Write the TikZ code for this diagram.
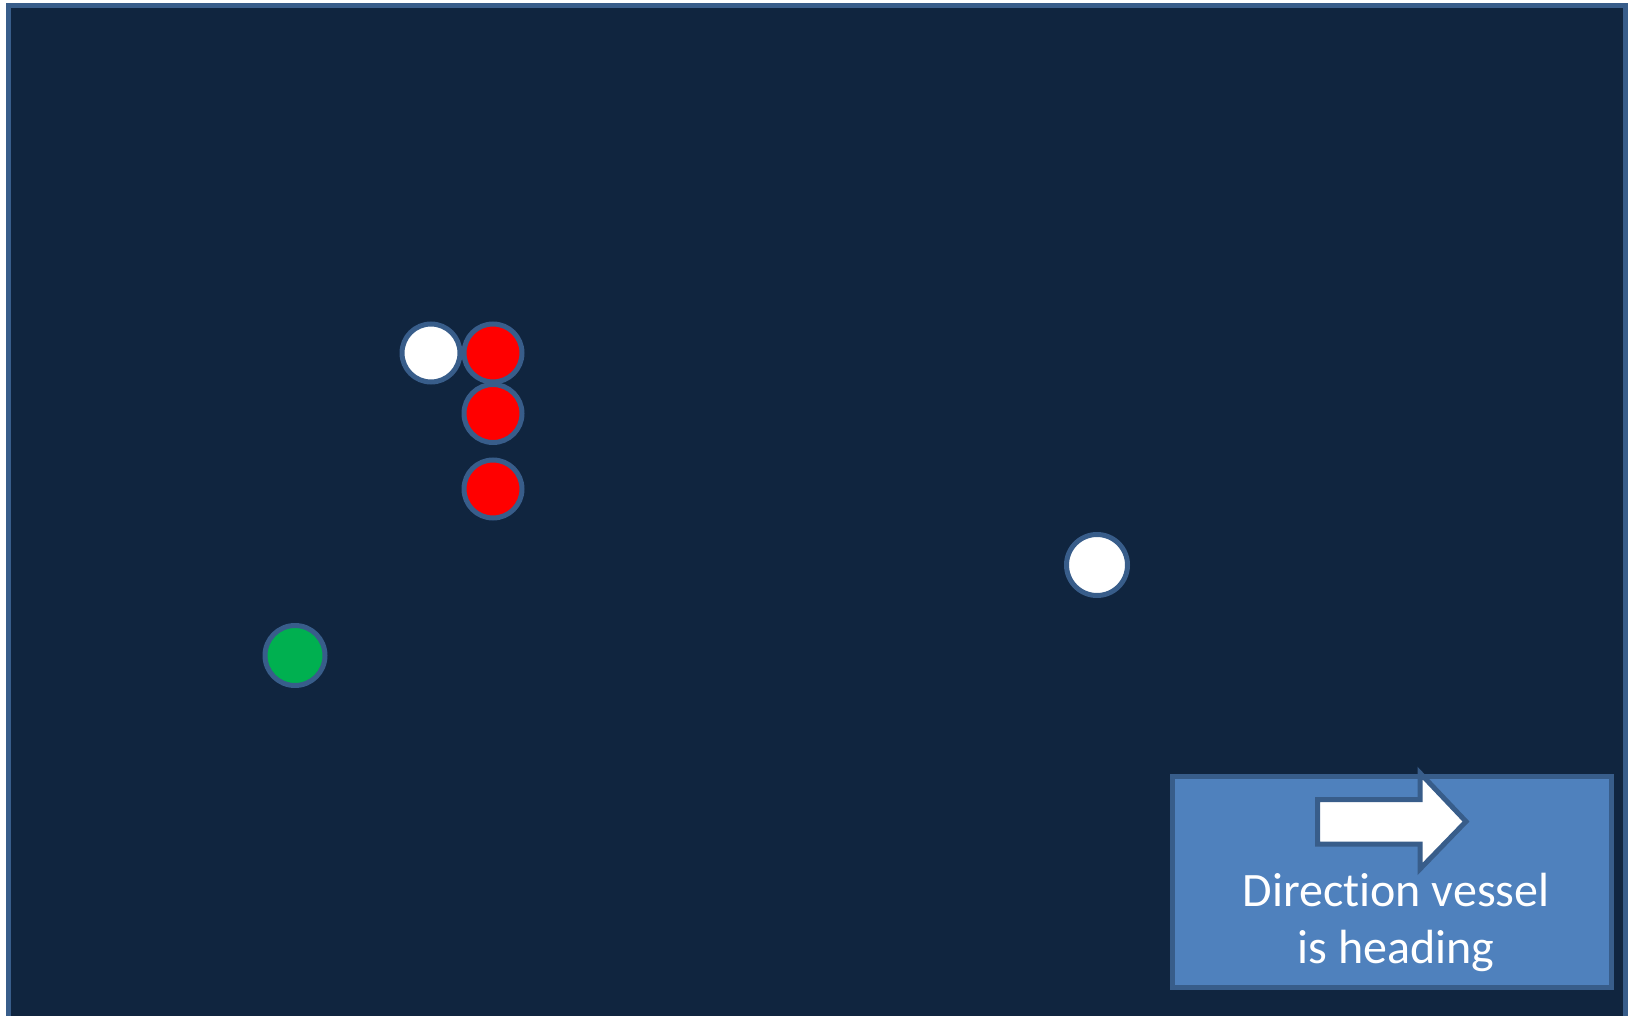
\documentclass[tikz,border=0pt]{standalone}
\usepackage{fontspec}
\setmainfont[Ligatures=NoCommon]{Carlito}
\definecolor{navy}{RGB}{16,37,63}
\definecolor{edgeblue}{RGB}{56,93,138}
\definecolor{boxblue}{RGB}{79,129,189}
\definecolor{dotred}{RGB}{255,0,0}
\definecolor{dotgreen}{RGB}{0,176,80}
\tikzset{
  dot/.style={circle, draw=edgeblue, line width=5pt, minimum size=58pt, inner sep=0pt},
}
\begin{document}
\begin{tikzpicture}[x=1pt,y=-1pt]
\useasboundingbox (0,0) rectangle (1630,1016);
\clip (0,0) rectangle (1630,1016);
\fill[white] (0,0) rectangle (1630,1016);
\draw[edgeblue, fill=navy, line width=5pt] (8.5,5.5) rectangle (1625,1040);
\node[dot, fill=white] (w1) at (431,353) {};
\node[dot, fill=dotred] (r1) at (493,353) {};
\node[dot, fill=dotred] (r2) at (493,413.5) {};
\node[dot, fill=dotred] (r3) at (493,489) {};
\node[dot, fill=white, minimum size=61pt] (w2) at (1097,565) {};
\node[dot, fill=dotgreen, minimum size=60pt] (g) at (295,655.5) {};
\node[draw=edgeblue, fill=boxblue, line width=5pt, minimum width=439pt, minimum height=211pt, inner sep=0pt] (box) at (1392,882) {};
\draw[edgeblue, fill=white, line width=5pt, line join=miter] (1317.5,799.5) -- (1420,799.5) -- (1420,773) -- (1466,821.5) -- (1420,869) -- (1420,844) -- (1317.5,844) -- cycle;
\node[text=white, font=\fontsize{48}{56.3}\selectfont, align=center, anchor=base, inner sep=0pt] (lbl) at (1396,963) {Direction vessel\\is heading};
\end{tikzpicture}
\end{document}
